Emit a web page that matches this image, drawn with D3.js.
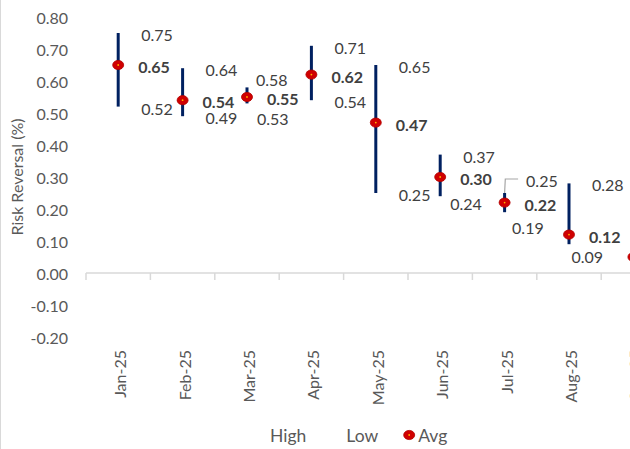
<!DOCTYPE html>
<html>
<head>
<meta charset="utf-8">
<script src="https://cdn.jsdelivr.net/npm/d3@7"></script>
<style>
  html, body { margin: 0; padding: 0; background: #ffffff; }
  svg { display: block; font-family: Lato, "Open Sans", sans-serif; }
</style>
</head>
<body>
<svg id="chart" width="630" height="449"></svg>
<script>
// Monthly risk reversal range: high, low and average per month
const months = ["Jan-25", "Feb-25", "Mar-25", "Apr-25", "May-25", "Jun-25", "Jul-25", "Aug-25", "Sep-25"];
const highs  = [0.75, 0.64, 0.58, 0.71, 0.65, 0.37, 0.25, 0.28, null];
const lows   = [0.52, 0.49, 0.53, 0.54, 0.25, 0.24, 0.19, 0.09, null];
const avgs   = [0.65, 0.54, 0.55, 0.62, 0.47, 0.30, 0.22, 0.12, 0.05];
const yTicks = [-0.20, -0.10, 0.00, 0.10, 0.20, 0.30, 0.40, 0.50, 0.60, 0.70, 0.80];
const legendItems = ["High", "Low", "Avg"];

// Hand-moved data labels (pixel nudges), keyed by series and month index
const labelNudges = [
  { series: "high", i: 2, dx: -14, dy: -9.5 },
  { series: "low",  i: 2, dx: -13, dy: 14 },
  { series: "low",  i: 5, dx: -13, dy: 5.5 },
  { series: "high", i: 6, dx: -1.5, dy: -14.5, leader: true },
  { series: "low",  i: 6, dx: -15.5, dy: 14 },
  { series: "low",  i: 7, dx: -20.5, dy: 11 }
];

const svg = d3.select("#chart");
const plotLeft = 86, bandW = 64.4;

const x = d3.scaleBand()
  .domain(months)
  .range([plotLeft, plotLeft + bandW * months.length])
  .paddingInner(0).paddingOuter(0);
const cx = m => x(m) + x.bandwidth() / 2;

const y = d3.scaleLinear().domain([-0.2, 0.8]).range([337, 17]);

const fmt = v => (Math.abs(v) < 1e-9 ? 0 : v).toFixed(2);

// chart frame edge on the left
svg.append("line")
  .attr("x1", 0.5).attr("x2", 0.5).attr("y1", 0).attr("y2", 449)
  .attr("stroke", "#d9d9d9").attr("stroke-width", 1);

// Y axis (labels only)
const yAxis = svg.append("g")
  .attr("transform", `translate(${plotLeft},0)`)
  .call(d3.axisLeft(y).tickValues(yTicks).tickSize(0).tickPadding(18).tickFormat(fmt));
yAxis.select(".domain").remove();
yAxis.selectAll("text")
  .attr("font-family", "Lato, 'Open Sans', sans-serif")
  .attr("font-size", 16)
  .attr("fill", "#595959")
  .attr("dy", "0.38em");

// Y axis title
svg.append("text")
  .attr("transform", `translate(16.5,${(y(0.8) + y(-0.2)) / 2}) rotate(-90)`)
  .attr("text-anchor", "middle")
  .attr("dominant-baseline", "central")
  .attr("font-size", 16)
  .attr("fill", "#595959")
  .text("Risk Reversal (%)");

// X axis at zero
const xAxis = svg.append("g")
  .attr("transform", `translate(0,${y(0)})`)
  .call(d3.axisBottom(x).tickSize(0).tickFormat(""));
xAxis.select(".domain")
  .attr("stroke", "#d9d9d9").attr("stroke-width", 1.5)
  .attr("d", `M${plotLeft},0H${plotLeft + bandW * months.length}`);
xAxis.selectAll(".tick").remove();

// tick marks between categories
xAxis.selectAll("line.sep")
  .data(months)
  .join("line")
  .attr("class", "sep")
  .attr("x1", d => x(d)).attr("x2", d => x(d))
  .attr("y1", 0).attr("y2", 7)
  .attr("stroke", "#d9d9d9").attr("stroke-width", 1.5);

// rotated month labels
svg.append("g").selectAll("text")
  .data(months)
  .join("text")
  .attr("transform", d => `translate(${cx(d) + 1.5},350) rotate(-90)`)
  .attr("text-anchor", "end")
  .attr("dominant-baseline", "central")
  .attr("font-size", 16)
  .attr("fill", "#595959")
  .text(d => d);

// high-low bars
const rows = months.map((m, i) => ({ m, i, high: highs[i], low: lows[i], avg: avgs[i] }));

svg.append("g").selectAll("line")
  .data(rows.filter(r => r.high != null && r.low != null))
  .join("line")
  .attr("x1", r => cx(r.m)).attr("x2", r => cx(r.m))
  .attr("y1", r => y(r.high)).attr("y2", r => y(r.low))
  .attr("stroke", "#002060").attr("stroke-width", 3);

// average markers
function marker(g, px, py) {
  g.append("ellipse")
    .attr("cx", px).attr("cy", py).attr("rx", 5.5).attr("ry", 4.6)
    .attr("fill", "#d00000").attr("stroke", "#b00000").attr("stroke-width", 0.8);
  g.append("circle")
    .attr("cx", px).attr("cy", py).attr("r", 0.9)
    .attr("fill", "#ffb000");
}
const markerG = svg.append("g");
rows.forEach(r => marker(markerG, cx(r.m), y(r.avg)));

// data labels
const labels = [];
rows.forEach(r => {
  if (r.high != null) labels.push({ series: "high", i: r.i, m: r.m, v: r.high, bold: false });
  if (r.avg != null) labels.push({ series: "avg", i: r.i, m: r.m, v: r.avg, bold: true });
  if (r.low != null) labels.push({ series: "low", i: r.i, m: r.m, v: r.low, bold: false });
});
labels.forEach(l => {
  const n = labelNudges.find(d => d.series === l.series && d.i === l.i);
  l.x = cx(l.m) + (l.bold ? 20 : 23) + (n ? n.dx : 0);
  l.y = y(l.v) + 1.5 + (n ? n.dy : 0);
  l.leader = n && n.leader;
});

const labelG = svg.append("g");
labelG.selectAll("text")
  .data(labels)
  .join("text")
  .attr("x", l => l.x)
  .attr("y", l => l.y)
  .attr("dominant-baseline", "central")
  .attr("font-size", 16)
  .attr("font-weight", l => l.bold ? "bold" : "normal")
  .attr("fill", "#404040")
  .text(l => fmt(l.v));

// leader lines for labels pulled away from their point
labels.filter(l => l.leader).forEach(l => {
  const px = cx(l.m), py = y(l.v);
  svg.append("path")
    .attr("d", `M${px},${py}L${px + 0.7},${l.y - 1}L${l.x - 8},${l.y - 1}`)
    .attr("fill", "none").attr("stroke", "#a6a6a6").attr("stroke-width", 1.2);
});

// legend: High and Low have no visible symbol, Avg uses the marker
const legend = svg.append("g");
let lx = 270;
legendItems.forEach(name => {
  if (name === "Avg") marker(legend, lx - 9, 435);
  const t = legend.append("text")
    .attr("x", lx).attr("y", 435)
    .attr("dominant-baseline", "central")
    .attr("font-size", 17.5)
    .attr("fill", "#595959")
    .text(name);
  lx += t.node().getComputedTextLength() + 40;
});
</script>
</body>
</html>
